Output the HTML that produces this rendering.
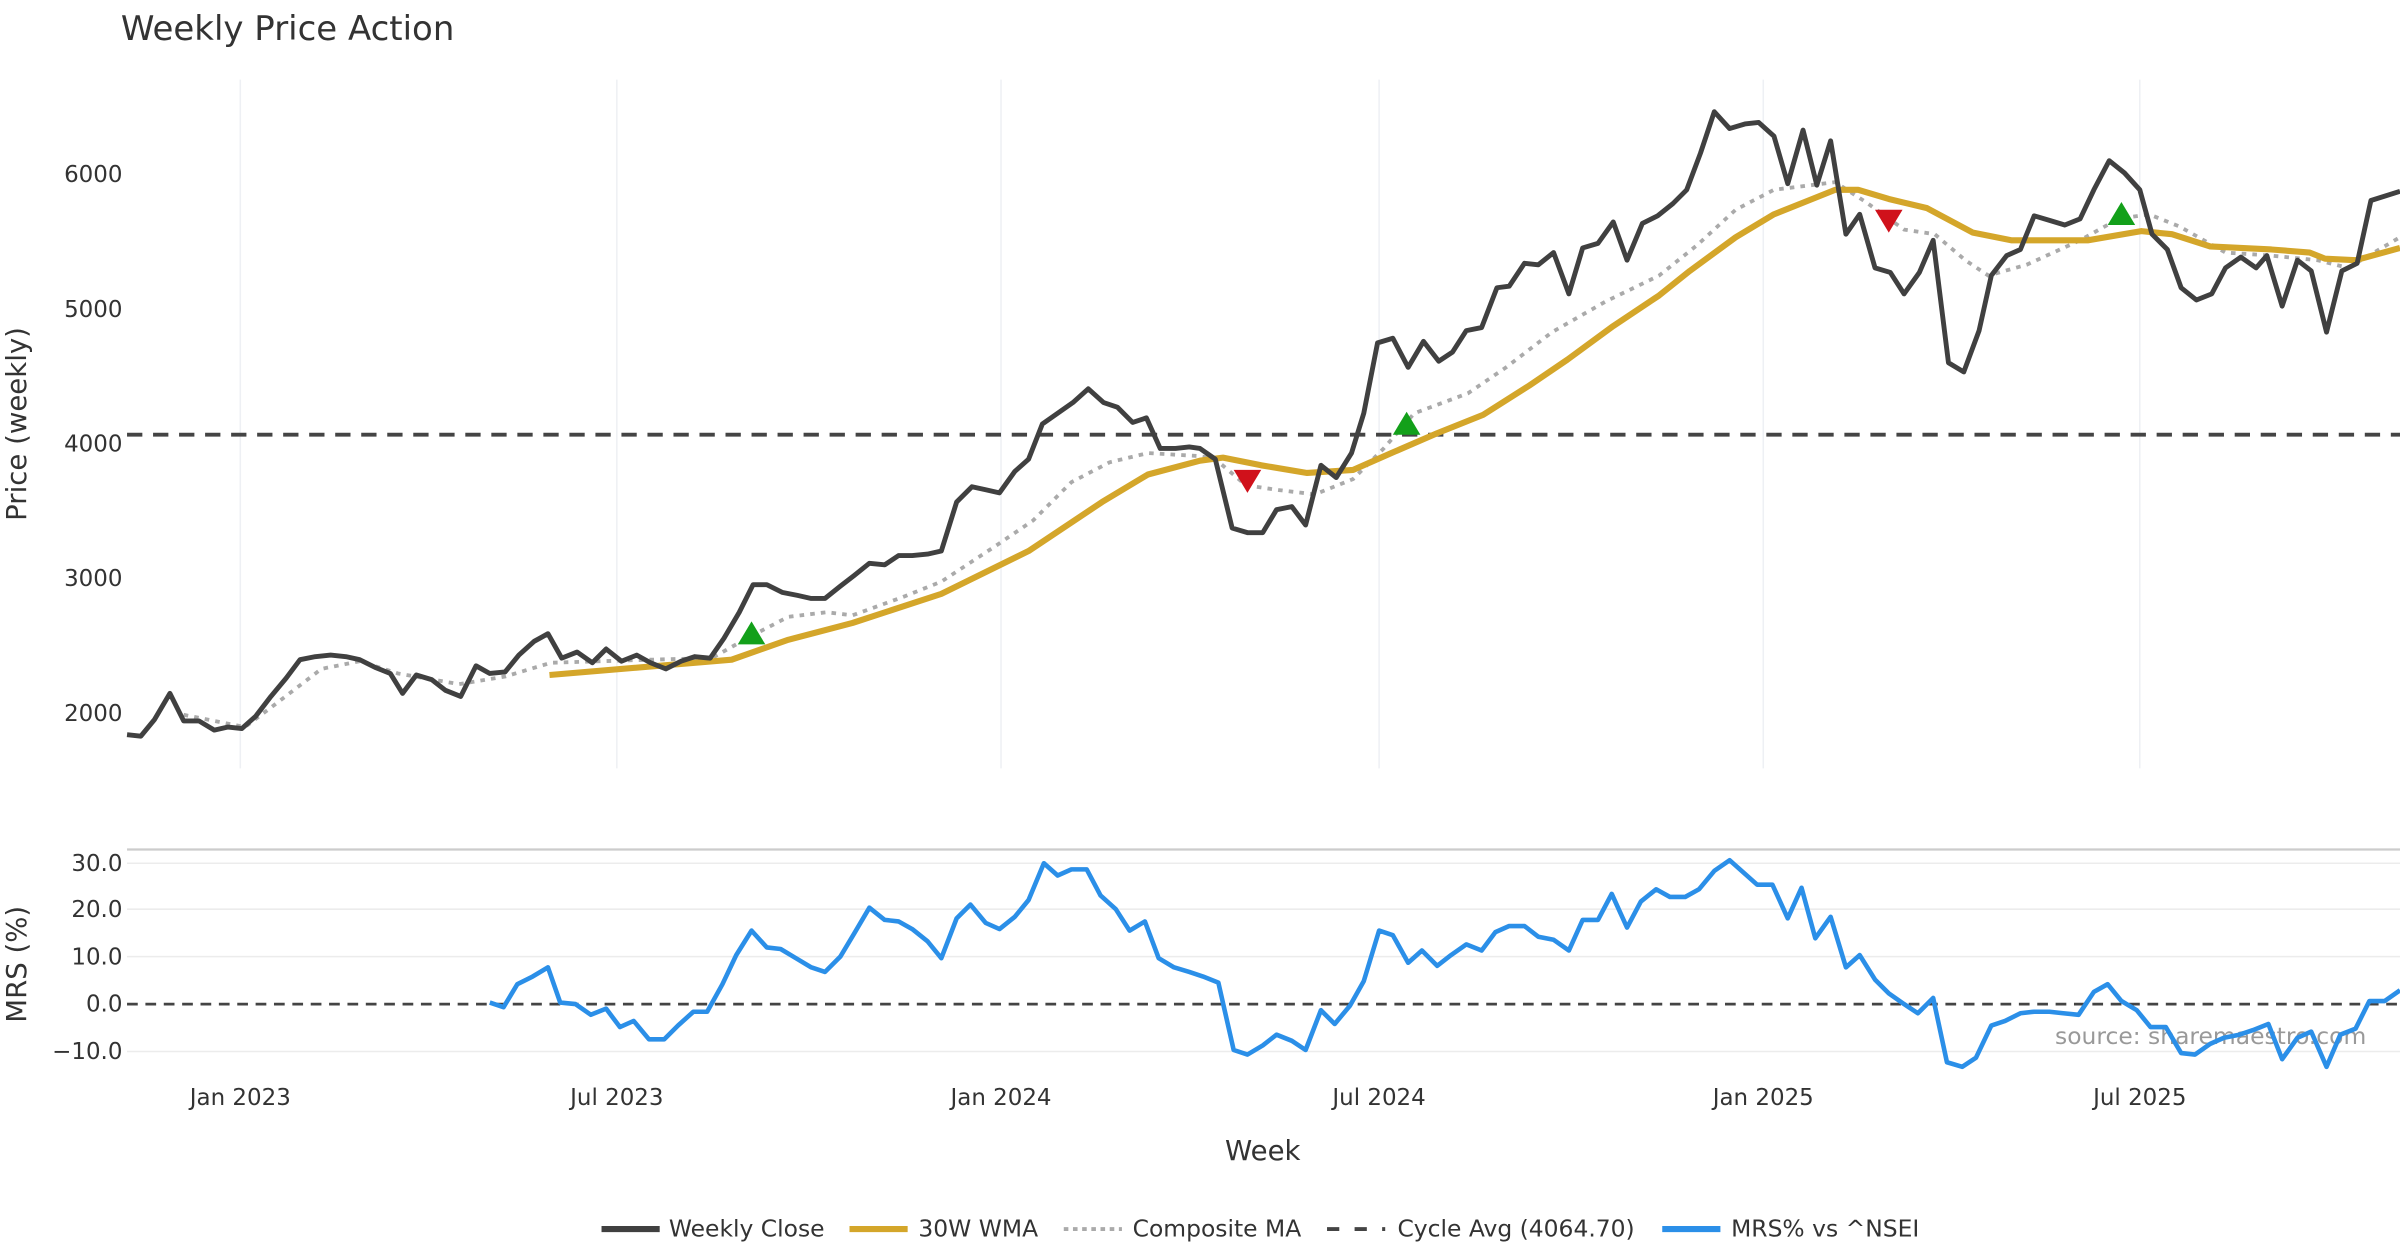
<!DOCTYPE html>
<html><head><meta charset="utf-8"><style>
html,body{margin:0;padding:0;background:#fff;}
svg{display:block;font-family:"DejaVu Sans","Liberation Sans",sans-serif;}
</style></head><body>
<svg width="2400" height="1260" viewBox="0 0 1568 823.2" xmlns="http://www.w3.org/2000/svg">
<rect width="1568" height="823.2" fill="#fff"/>
<text x="79" y="26" font-size="22.2" fill="#333">Weekly Price Action</text>
<g stroke="#eef0f4" stroke-width="1">
<line x1="157" y1="52" x2="157" y2="502"/><line x1="403" y1="52" x2="403" y2="502"/>
<line x1="654" y1="52" x2="654" y2="502"/><line x1="901" y1="52" x2="901" y2="502"/>
<line x1="1152" y1="52" x2="1152" y2="502"/><line x1="1398" y1="52" x2="1398" y2="502"/>
</g>
<g font-size="15" fill="#333" text-anchor="end">
<text x="80" y="119">6000</text><text x="80" y="207">5000</text><text x="80" y="295">4000</text>
<text x="80" y="383">3000</text><text x="80" y="471">2000</text>
</g>
<text transform="translate(17,277) rotate(-90)" font-size="18" fill="#333" text-anchor="middle">Price (weekly)</text>
<line x1="83" y1="284" x2="1568" y2="284" stroke="#444" stroke-width="2.5" stroke-dasharray="10,7"/>
<polyline fill="none" stroke="#aaa" stroke-width="2.5" stroke-dasharray="3,4" points="120,467 160,475 180,460 210,437 235,432 260,440 300,447 330,442 360,433 425,431 465,430 488,417 515,403 540,400 557,402 590,390 615,380 650,357 675,340 700,315 725,302 750,296 784,298 794,300 814,317 834,320 859,323 884,313 904,293 924,270 959,257 984,240 1014,217 1049,197 1084,180 1109,160 1134,137 1159,124 1199,119 1219,132 1244,150 1264,153 1284,170 1299,180 1324,173 1359,157 1384,143 1404,140 1424,148 1454,165 1484,167 1514,170 1534,175 1568,155"/>
<polyline fill="none" stroke="#d4a62a" stroke-width="4" stroke-linejoin="round" points="359,441 478,431 515,418 557,407 615,388 672,360 720,328 750,310 784,301 799,299 824,304 854,309 884,307 909,296 939,283 969,271 999,252 1024,235 1054,213 1084,193 1104,177 1134,155 1159,140 1179,132 1199,124 1214,124 1234,130 1259,136 1289,152 1314,157 1364,157 1399,151 1419,153 1444,161 1484,163 1509,165 1519,169 1539,170 1568,162"/>
<polyline fill="none" stroke="#404040" stroke-width="3.2" stroke-linejoin="round" points="83,480 92,481 101,470 111,453 120,471 130,471 140,477 149,475 158,476 167,468 177,455 187,443 196,431 206,429 216,428 226,429 235,431 245,436 255,440 263,453 272,441 282,444 291,451 301,455 311,435 320,440 330,439 339,428 349,419 358,414 367,430 377,426 387,433 396,424 406,432 416,428 425,433 435,437 445,432 454,429 464,430 473,417 483,400 492,382 501,382 511,387 521,389 530,391 539,391 549,383 558,376 568,368 578,369 587,363 596,363 606,362 615,360 625,328 635,318 644,320 653,322 663,308 672,300 681,277 691,270 701,263 711,254 721,263 730,266 740,276 749,273 758,293 768,293 777,292 784,293 794,300 805,345 815,348 825,348 834,333 844,331 853,343 863,304 873,312 883,296 891,270 900,224 910,221 920,240 930,223 940,236 949,230 958,216 968,214 978,188 986,187 996,172 1005,173 1015,165 1025,192 1034,162 1044,159 1054,145 1063,170 1073,146 1083,141 1093,133 1102,124 1111,100 1120,73 1130,84 1140,81 1149,80 1159,89 1168,120 1178,85 1187,121 1196,92 1206,153 1215,140 1225,175 1235,178 1244,192 1254,178 1263,157 1273,237 1283,243 1293,216 1301,180 1311,167 1320,163 1329,141 1339,144 1349,147 1359,143 1368,124 1378,105 1388,113 1398,124 1406,153 1416,163 1425,188 1435,196 1445,192 1454,175 1464,168 1474,175 1481,167 1491,200 1501,170 1510,177 1520,217 1530,177 1540,172 1549,131 1568,125"/>
<g fill="#13a01a">
<polygon points="491,406 482,421 500,421"/><polygon points="919,269 910,284 928,284"/><polygon points="1386,132 1377,147 1395,147"/>
</g>
<g fill="#d0111b">
<polygon points="815,322 806,307 824,307"/><polygon points="1234,152 1225,137 1243,137"/>
</g>
<line x1="83" y1="555" x2="1568" y2="555" stroke="#ccc" stroke-width="1.5"/>
<g stroke="#ececec" stroke-width="1">
<line x1="83" y1="564" x2="1568" y2="564"/><line x1="83" y1="594" x2="1568" y2="594"/>
<line x1="83" y1="625" x2="1568" y2="625"/><line x1="83" y1="687" x2="1568" y2="687"/>
</g>
<line x1="83" y1="656" x2="1568" y2="656" stroke="#444" stroke-width="1.8" stroke-dasharray="7,5"/>
<g font-size="15" fill="#333" text-anchor="end">
<text x="80" y="569">30.0</text><text x="80" y="599">20.0</text><text x="80" y="630">10.0</text>
<text x="80" y="661">0.0</text><text x="80" y="692">−10.0</text>
</g>
<text transform="translate(17,630) rotate(-90)" font-size="18" fill="#333" text-anchor="middle">MRS (%)</text>
<text x="1546" y="682" font-size="15.3" fill="#999" text-anchor="end">source: sharemaestro.com</text>
<polyline fill="none" stroke="#2b8fe8" stroke-width="3" stroke-linejoin="round" points="320,655 329,658 338,643 348,638 358,632 366,655 376,656 386,663 396,659 405,671 414,667 424,679 434,679 443,670 453,661 462,661 472,643 481,624 491,608 501,619 510,620 520,626 530,632 539,635 549,625 558,610 568,593 578,601 587,602 596,607 606,615 615,626 625,600 634,591 644,603 653,607 663,599 672,588 682,564 691,572 700,568 710,568 719,585 729,594 738,608 748,602 757,626 767,632 777,635 786,638 796,642 806,686 815,689 825,683 834,676 844,680 853,686 863,660 872,669 882,657 891,641 901,608 910,611 920,629 929,621 939,631 948,624 958,617 968,621 977,609 986,605 996,605 1005,612 1015,614 1025,621 1034,601 1044,601 1053,584 1063,606 1072,589 1082,581 1091,586 1101,586 1110,581 1120,569 1130,562 1139,570 1148,578 1158,578 1168,600 1177,580 1186,613 1196,599 1206,632 1215,624 1225,640 1234,649 1244,656 1253,662 1263,652 1272,694 1282,697 1291,691 1301,670 1310,667 1320,662 1329,661 1339,661 1348,662 1358,663 1368,648 1377,643 1386,654 1396,660 1405,671 1415,671 1425,688 1434,689 1444,682 1453,678 1463,676 1472,673 1482,669 1491,692 1501,678 1510,674 1520,697 1529,676 1539,672 1548,654 1558,654 1568,647"/>
<g font-size="15" fill="#333" text-anchor="middle">
<text x="157" y="722">Jan 2023</text><text x="403" y="722">Jul 2023</text><text x="654" y="722">Jan 2024</text>
<text x="901" y="722">Jul 2024</text><text x="1152" y="722">Jan 2025</text><text x="1398" y="722">Jul 2025</text>
</g>
<text x="825" y="758" font-size="18" fill="#333" text-anchor="middle">Week</text>
<g font-size="15.3" fill="#333">
<line x1="393" y1="803" x2="431" y2="803" stroke="#404040" stroke-width="4"/><text x="437" y="808">Weekly Close</text>
<line x1="555" y1="803" x2="593" y2="803" stroke="#d4a62a" stroke-width="4"/><text x="600" y="808">30W WMA</text>
<line x1="695" y1="803" x2="733" y2="803" stroke="#aaa" stroke-width="2.5" stroke-dasharray="3,3"/><text x="740" y="808">Composite MA</text>
<line x1="867" y1="803" x2="905" y2="803" stroke="#444" stroke-width="2.5" stroke-dasharray="8,10"/><text x="913" y="808">Cycle Avg (4064.70)</text>
<line x1="1086" y1="803" x2="1124" y2="803" stroke="#2b8fe8" stroke-width="4"/><text x="1131" y="808">MRS% vs ^NSEI</text>
</g>
</svg>
</body></html>
